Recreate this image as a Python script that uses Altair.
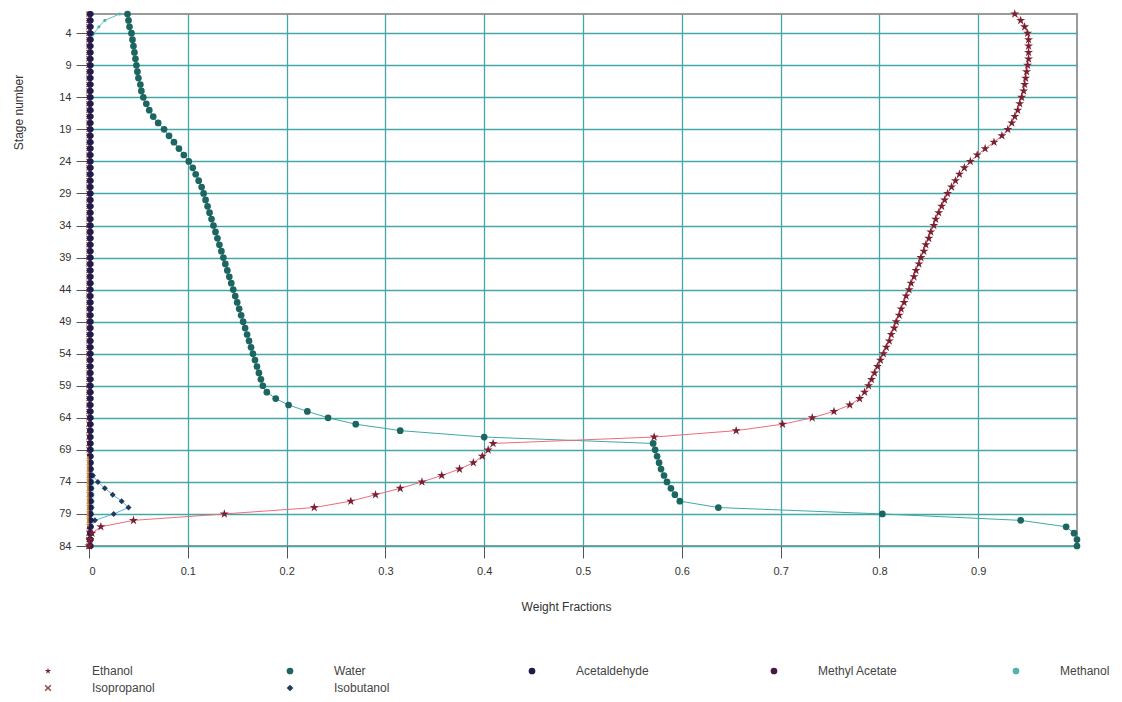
import altair as alt
import pandas as pd

stages = list(range(1, 85))

ethanol = [
    0.937, 0.943, 0.947, 0.950, 0.951, 0.951, 0.951, 0.951, 0.950, 0.949,
    0.948, 0.947, 0.946, 0.944, 0.942, 0.940, 0.937, 0.934, 0.930, 0.924,
    0.916, 0.907, 0.899, 0.892, 0.886, 0.881, 0.877, 0.873, 0.869, 0.866,
    0.863, 0.860, 0.857, 0.855, 0.852, 0.850, 0.847, 0.845, 0.842, 0.840,
    0.837, 0.835, 0.832, 0.830, 0.827, 0.825, 0.822, 0.820, 0.817, 0.815,
    0.812, 0.810, 0.807, 0.804, 0.801, 0.798, 0.795, 0.792, 0.789, 0.785,
    0.780, 0.770, 0.754, 0.732, 0.702, 0.655, 0.572, 0.409, 0.404, 0.398,
    0.389, 0.375, 0.357, 0.337, 0.315, 0.290, 0.265, 0.228, 0.137, 0.045,
    0.012, 0.003, 0.001, 0.000,
]

water = [
    0.039, 0.040, 0.041, 0.043, 0.044, 0.045, 0.046, 0.047, 0.048, 0.049,
    0.050, 0.052, 0.053, 0.055, 0.058, 0.061, 0.065, 0.070, 0.076, 0.081,
    0.086, 0.091, 0.096, 0.101, 0.105, 0.108, 0.111, 0.114, 0.116, 0.118,
    0.120, 0.122, 0.124, 0.126, 0.128, 0.130, 0.132, 0.134, 0.136, 0.138,
    0.140, 0.142, 0.144, 0.146, 0.148, 0.150, 0.152, 0.154, 0.156, 0.158,
    0.160, 0.162, 0.164, 0.166, 0.168, 0.170, 0.172, 0.174, 0.176, 0.180,
    0.189, 0.202, 0.221, 0.242, 0.270, 0.315, 0.400, 0.571, 0.573, 0.575,
    0.577, 0.579, 0.582, 0.585, 0.589, 0.593, 0.598, 0.637, 0.803, 0.943,
    0.989, 0.997, 1.000, 1.000,
]

acetaldehyde = [
    0.002, 0.002, 0.002, 0.002, 0.002, 0.002, 0.002, 0.002, 0.002, 0.002,
    0.002, 0.002, 0.002, 0.002, 0.002, 0.002, 0.002, 0.002, 0.002, 0.002,
    0.002, 0.002, 0.002, 0.002, 0.002, 0.002, 0.002, 0.002, 0.002, 0.002,
    0.002, 0.002, 0.002, 0.002, 0.002, 0.002, 0.002, 0.002, 0.002, 0.002,
    0.002, 0.002, 0.002, 0.002, 0.002, 0.002, 0.002, 0.002, 0.002, 0.002,
    0.002, 0.002, 0.002, 0.002, 0.002, 0.002, 0.002, 0.002, 0.002, 0.002,
    0.002, 0.002, 0.002, 0.002, 0.002, 0.002, 0.002, 0.002, 0.002, 0.002,
    0.002, 0.002, 0.002, 0.002, 0.002, 0.002, 0.002, 0.002, 0.002, 0.002,
    0.002, 0.002, 0.002, 0.002,
]

methyl_acetate = [
    0.001, 0.001, 0.001, 0.001, 0.001, 0.001, 0.001, 0.001, 0.001, 0.001,
    0.001, 0.001, 0.001, 0.001, 0.001, 0.001, 0.001, 0.001, 0.001, 0.001,
    0.001, 0.001, 0.001, 0.001, 0.001, 0.001, 0.001, 0.001, 0.001, 0.001,
    0.001, 0.001, 0.001, 0.001, 0.001, 0.001, 0.001, 0.001, 0.001, 0.001,
    0.001, 0.001, 0.001, 0.001, 0.001, 0.001, 0.001, 0.001, 0.001, 0.001,
    0.001, 0.001, 0.001, 0.001, 0.001, 0.001, 0.001, 0.001, 0.001, 0.001,
    0.001, 0.001, 0.001, 0.001, 0.001, 0.001, 0.001, 0.001, 0.001, 0.001,
    0.001, 0.001, 0.001, 0.001, 0.001, 0.001, 0.001, 0.001, 0.001, 0.001,
    0.001, 0.001, 0.001, 0.001,
]

methanol = [
    0.031, 0.016, 0.010, 0.005, 0.003, 0.002, 0.001, 0.001, 0.001, 0.001,
    0.001, 0.001, 0.001, 0.001, 0.001, 0.001, 0.001, 0.001, 0.001, 0.001,
    0.001, 0.001, 0.001, 0.001, 0.001, 0.001, 0.001, 0.001, 0.001, 0.001,
    0.001, 0.001, 0.001, 0.001, 0.001, 0.001, 0.001, 0.001, 0.001, 0.001,
    0.001, 0.001, 0.001, 0.001, 0.001, 0.001, 0.001, 0.001, 0.001, 0.001,
    0.001, 0.001, 0.001, 0.001, 0.001, 0.001, 0.001, 0.001, 0.001, 0.001,
    0.001, 0.001, 0.001, 0.001, 0.001, 0.001, 0.001, 0.001, 0.001, 0.002,
    0.003, 0.003, 0.004, 0.004, 0.004, 0.004, 0.004, 0.004, 0.003, 0.002,
    0.001, 0.001, 0.001, 0.001,
]

isopropanol = [
    0.000, 0.000, 0.000, 0.000, 0.000, 0.000, 0.000, 0.000, 0.000, 0.000,
    0.000, 0.000, 0.000, 0.000, 0.000, 0.000, 0.000, 0.000, 0.000, 0.000,
    0.000, 0.000, 0.000, 0.000, 0.000, 0.000, 0.000, 0.000, 0.000, 0.000,
    0.000, 0.000, 0.000, 0.000, 0.000, 0.000, 0.000, 0.000, 0.000, 0.000,
    0.000, 0.000, 0.000, 0.000, 0.000, 0.000, 0.000, 0.000, 0.000, 0.000,
    0.000, 0.000, 0.000, 0.000, 0.000, 0.000, 0.000, 0.000, 0.000, 0.000,
    0.000, 0.000, 0.000, 0.000, 0.000, 0.000, 0.000, 0.000, 0.000, 0.0004,
    0.0004, 0.0004, 0.0004, 0.0004, 0.0004, 0.0004, 0.0004, 0.0004, 0.0004, 0.0004,
    0.0004, 0.000, 0.000, 0.000,
]

isobutanol = [
    0.000, 0.000, 0.000, 0.000, 0.000, 0.000, 0.000, 0.000, 0.000, 0.000,
    0.000, 0.000, 0.000, 0.000, 0.000, 0.000, 0.000, 0.000, 0.000, 0.000,
    0.000, 0.000, 0.000, 0.000, 0.000, 0.000, 0.000, 0.000, 0.000, 0.000,
    0.000, 0.000, 0.000, 0.000, 0.000, 0.000, 0.000, 0.000, 0.000, 0.000,
    0.000, 0.000, 0.000, 0.000, 0.000, 0.000, 0.000, 0.000, 0.000, 0.000,
    0.000, 0.000, 0.000, 0.000, 0.000, 0.000, 0.000, 0.000, 0.000, 0.000,
    0.000, 0.000, 0.000, 0.001, 0.001, 0.001, 0.001, 0.001, 0.001, 0.001,
    0.001, 0.002, 0.004, 0.009, 0.016, 0.024, 0.033, 0.040, 0.025, 0.006,
    0.002, 0.001, 0.000, 0.000,
]

x_ticks = [0, 0.1, 0.2, 0.3, 0.4, 0.5, 0.6, 0.7, 0.8, 0.9]
y_ticks = [4, 9, 14, 19, 24, 29, 34, 39, 44, 49, 54, 59, 64, 69, 74, 79, 84]

components = ["Ethanol", "Water", "Acetaldehyde", "Methyl Acetate",
              "Methanol", "Isopropanol", "Isobutanol"]
series = {
    "Ethanol": ethanol, "Water": water, "Acetaldehyde": acetaldehyde,
    "Methyl Acetate": methyl_acetate, "Methanol": methanol,
    "Isopropanol": isopropanol, "Isobutanol": isobutanol,
}
draw_order = ["Isopropanol", "Methanol", "Isobutanol", "Methyl Acetate",
              "Acetaldehyde", "Water", "Ethanol"]

point_colors = ["#7a2032", "#1d6560", "#1b1d4d", "#4a1843", "#52b3ad", "#8a4b3a", "#26395a"]
line_colors = ["#ef6b77", "#40aaa4", "#1b1d4d", "#4a1843", "#5cc0bb", "#f0a030", "#5ab2e2"]
star = "M0,-1L0.2245,-0.309L0.951,-0.309L0.363,0.118L0.588,0.809L0,0.382L-0.588,0.809L-0.363,0.118L-0.951,-0.309L-0.2245,-0.309Z"
xmark = "M-0.7,-1L0,-0.3L0.7,-1L1,-0.7L0.3,0L1,0.7L0.7,1L0,0.3L-0.7,1L-1,0.7L-0.3,0L-1,-0.7Z"
shapes = [star, "circle", "circle", "circle", "circle", xmark, "diamond"]
marker_size = {"Ethanol": 90, "Water": 45, "Acetaldehyde": 30, "Methyl Acetate": 38,
               "Methanol": 10, "Isopropanol": 36, "Isobutanol": 36}

rows = []
for k, name in enumerate(draw_order):
    for s, v in zip(stages, series[name]):
        rows.append({"stage": s, "value": v, "component": name,
                     "line_component": name, "k": k, "msize": marker_size[name]})
df = pd.DataFrame(rows)

font = "Liberation Sans"

x_enc = alt.X("value:Q", scale=alt.Scale(domain=[0, 1], nice=False, zero=False),
              axis=alt.Axis(values=x_ticks, format="~g", title="Weight Fractions",
                            titleX=477, titleY=60, titleAlign="center",
                            titleBaseline="middle", labelPadding=7, tickSize=12))
y_enc = alt.Y("stage:Q", scale=alt.Scale(domain=[1, 84], reverse=True, nice=False, zero=False),
              axis=alt.Axis(values=y_ticks, title="Stage number", titleX=-71, titleY=98,
                            titleAngle=270, titleAlign="center", titleBaseline="middle",
                            labelPadding=5, tickSize=13))

base = alt.Chart(df)

lines = base.mark_line(strokeWidth=1).encode(
    x=x_enc, y=y_enc,
    stroke=alt.Stroke("line_component:N", sort=components,
                      scale=alt.Scale(domain=components, range=line_colors), legend=None),
    detail="line_component:N",
    order=alt.Order("stage:Q"),
)

legend = alt.Legend(orient="none", direction="horizontal", legendX=-47, legendY=651,
                    columns=5, title=None, gridAlign="all", columnPadding=112,
                    rowPadding=5, labelOffset=38, labelFont=font, labelFontSize=12,
                    labelColor="#444", symbolSize=45, symbolStrokeWidth=0, symbolOpacity=1)

points = base.mark_point(filled=True, opacity=1, strokeWidth=0).encode(
    x=x_enc, y=y_enc,
    color=alt.Color("component:N", sort=components,
                    scale=alt.Scale(domain=components, range=point_colors), legend=legend),
    shape=alt.Shape("component:N", sort=components,
                    scale=alt.Scale(domain=components, range=shapes), legend=legend),
    size=alt.Size("msize:Q", scale=None, legend=None),
    order=alt.Order("k:Q"),
)

iso_line = base.transform_filter(
    (alt.datum.component == "Isopropanol") & (alt.datum.value > 0)
).mark_line(strokeWidth=1.5, color="#f0a030", xOffset=-1.5).encode(
    x=x_enc, y=y_enc, order=alt.Order("stage:Q"),
)

chart = alt.layer(lines, points, iso_line).resolve_scale(
    color="independent", shape="independent", stroke="independent"
).resolve_legend(
    color="independent", shape="independent"
).properties(
    width=988, height=532,
    autosize=alt.AutoSizeParams(type="none"),
    padding={"left": 81, "top": 6, "right": 34, "bottom": 152},
).configure_axis(
    labelFont=font, titleFont=font, labelFontSize=11, titleFontSize=12,
    labelColor="#333", titleColor="#333", titleFontWeight="normal",
    gridColor="#46a6a6", gridWidth=1.3, tickColor="#555", domain=False,
).configure_view(stroke="#9a9a9a", strokeWidth=2)

chart.save("out.html", embed_options={"renderer": "svg", "actions": False})
